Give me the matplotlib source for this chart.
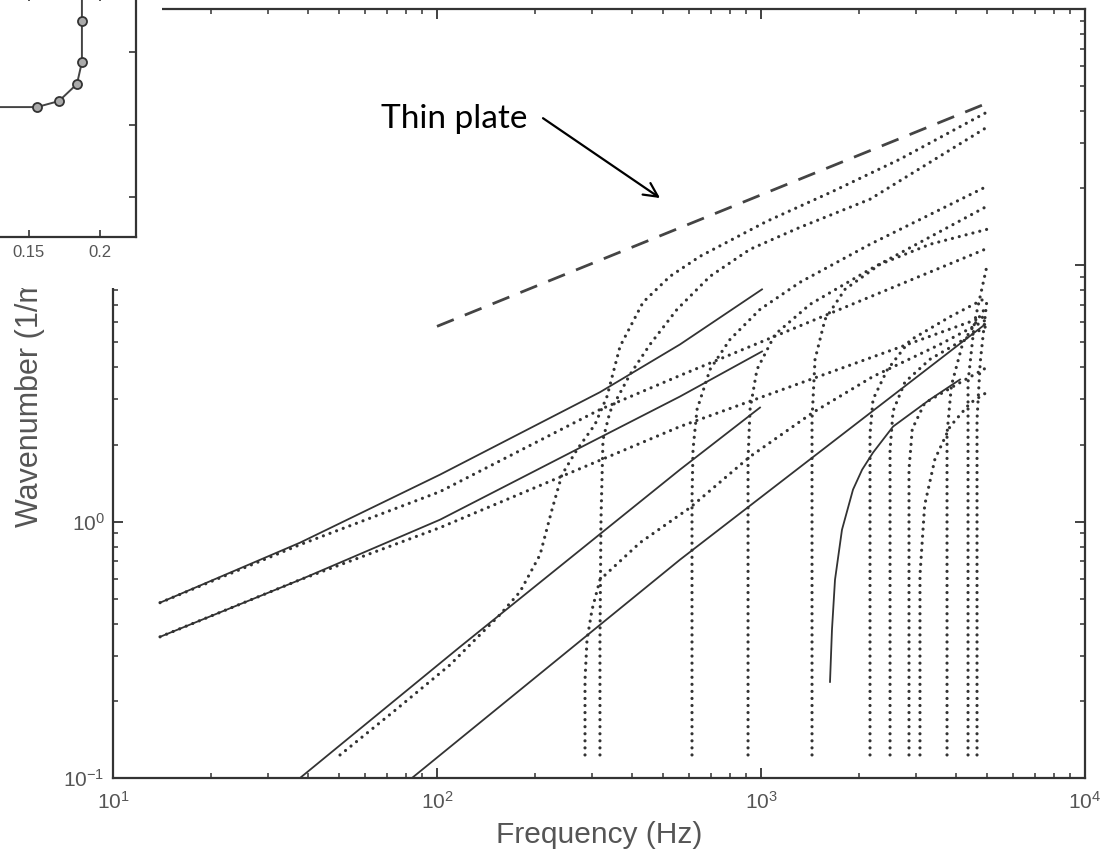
import matplotlib
matplotlib.use('Agg')
import matplotlib.pyplot as plt
from matplotlib.patches import Rectangle
from matplotlib.transforms import Bbox

plt.rcParams['font.family'] = ['Liberation Sans', 'DejaVu Sans']
plt.rcParams['mathtext.fontset'] = 'custom'
plt.rcParams['mathtext.rm'] = 'Liberation Sans'
plt.rcParams['mathtext.it'] = 'Liberation Sans:italic'
plt.rcParams['mathtext.bf'] = 'Liberation Sans:bold'
plt.rcParams['mathtext.default'] = 'regular'

# ---------------- data (frequency Hz, wavenumber 1/m) ----------------
plate_f = [100, 4914]
plate_k = [5.78, 42.6]

s1_f = [13.97, 37.77, 102.2, 318.4, 562.3, 1007]
s1_k = [0.483, 0.828, 1.526, 3.20, 4.914, 8.058]
s2_f = [13.97, 37.77, 102.2, 318.4, 562.3, 1007]
s2_k = [0.3554, 0.5934, 1.018, 2.13, 3.078, 4.613]
s3_f = [37.77, 117.8, 562.3, 992.9]
s3_k = [0.1, 0.3249, 1.596, 2.787]
s4_f = [83.7, 562.3, 4914]
s4_k = [0.1, 0.7107, 5.884]
s5_f = [1633, 1656, 1692, 1778, 1923, 2052, 2217, 2556, 3323, 4114]
s5_k = [0.2371, 0.379, 0.5934, 0.93, 1.334, 1.596, 1.860, 2.350, 2.997, 3.586]

d1_f = [13.97, 37.77, 102.2, 318.4, 562.3, 4914]
d1_k = [0.483, 0.8131, 1.310, 2.738, 3.717, 11.55]
d2_f = [13.97, 37.77, 102.2, 562.3, 4914]
d2_k = [0.3554, 0.5934, 0.948, 2.350, 6.32]

m1_f = [50.2, 73.2, 109.7, 156.4, 180.4, 208.0, 226.4, 243.1, 270.5, 307.3,
        334.7, 367.2, 432.3, 523.7, 648.2, 1043, 1668, 2685, 4985]
m1_k = [0.1230, 0.181, 0.2763, 0.4334, 0.5328, 0.7430, 1.114, 1.526, 1.911, 2.393,
        3.078, 4.826, 7.171, 9.059, 10.84, 14.86, 19.45, 25.95, 39.61]
m2_f = [318.4, 318.4, 320.7, 325.3, 342.0, 394.2, 454.4, 550.5, 696.1, 924.9, 1319, 2170, 4985]
m2_k = [0.1230, 0.3459, 1.018, 2.090, 2.690, 3.751, 4.914, 6.731, 9.059, 11.55, 14.07, 18.11, 34.6]
m0_f = [286.3, 286.3, 290.4, 300.9, 318.4, 423.2, 603.9, 924.9, 1447, 2217, 3568, 4985]
m0_k = [0.1230, 0.2415, 0.3459, 0.4531, 0.5934, 0.8279, 1.134, 1.794, 2.667, 3.684, 4.914, 6.152]
m3_f = [612.4, 612.4, 616.8, 634.6, 696.1, 802.3, 992.9, 1319, 2170, 4985]
m3_k = [0.1230, 1.219, 1.911, 2.738, 3.925, 5.139, 6.731, 8.585, 12.08, 20.35]
m4_f = [912.0, 912.0, 924.9, 971.9, 1105, 1417, 2170, 4985]
m4_k = [0.1230, 1.747, 2.738, 3.925, 5.377, 7.043, 9.647, 17.01]
m5_f = [1437, 1437, 1468, 1576, 1816, 2330, 3323, 4985]
m5_k = [0.1230, 2.503, 4.295, 6.152, 8.058, 10.09, 12.08, 13.82]
m6_f = [2170, 2170, 2217, 2450, 2884, 3832, 4985]
m6_k = [0.1230, 2.2, 3.0, 3.9, 5.1, 6.3, 7.5]
m7_f = [2502, 2502, 2556, 2780, 3323, 4985]
m7_k = [0.1230, 1.9, 2.7, 3.5, 4.3, 5.8]
m8_f = [2863, 2863, 2930, 3200, 3971, 4985]
m8_k = [0.1230, 1.6, 2.3, 2.9, 3.4, 4.0]
m9_f = [3095, 3095, 3200, 3440, 3832, 4420, 4985]
m9_k = [0.1230, 0.62, 1.16, 1.75, 2.35, 2.9, 3.2]
m10_f = [3751, 3751, 3870, 4200, 4985]
m10_k = [0.1230, 2.2, 3.4, 5.0, 7.0]
m11_f = [4355, 4355, 4560, 4985]
m11_k = [0.1230, 3.5, 6.0, 10.0]
m12_f = [4642, 4642, 4750, 4985]
m12_k = [0.1230, 2.5, 4.2, 7.4]

# inset data
inset_x = [0.09, 0.1556, 0.1711, 0.1838, 0.1873, 0.1873, 0.1873]
inset_y = [2.241, 2.241, 2.324, 2.559, 2.862, 3.428, 4.2]
inset_xticks = [0.15, 0.2]
inset_xticklabels = ['0.15', '0.2']

# annotation
label_text = 'Thin plate'
label_pos = (190, 37.2)
arrow_tail = (212.4, 37.5)
arrow_tip = (488, 18.3)

# ---------------- figure ----------------
W, H = 1108, 856
fig = plt.figure(figsize=(W / 100, H / 100), dpi=100)
ax = fig.add_axes([113 / W, 1 - 778 / H, 972 / W, 769 / H])
ax.set_xscale('log')
ax.set_yscale('log')
ax.set_xlim(10, 1e4)
ax.set_ylim(0.1, 100)

line_col = '#333333'
dot_style = dict(color=line_col, lw=2.3, linestyle=(0, (0.01, 2.2)),
                 dash_capstyle='round')
solid_style = dict(color=line_col, lw=1.3)

ax.plot(plate_f, plate_k, color='#444444', lw=2.0, linestyle=(0, (6.5, 4.3)))

for f, k in [(d1_f, d1_k), (d2_f, d2_k), (m0_f, m0_k), (m1_f, m1_k), (m2_f, m2_k),
             (m3_f, m3_k), (m4_f, m4_k), (m5_f, m5_k), (m6_f, m6_k), (m7_f, m7_k),
             (m8_f, m8_k), (m9_f, m9_k), (m10_f, m10_k), (m11_f, m11_k), (m12_f, m12_k)]:
    ax.plot(f, k, **dot_style)

for f, k in [(s1_f, s1_k), (s2_f, s2_k), (s3_f, s3_k), (s4_f, s4_k), (s5_f, s5_k)]:
    ax.plot(f, k, **solid_style)

for sp in ax.spines.values():
    sp.set_linewidth(1.6)
    sp.set_color('#333333')
ax.tick_params(which='both', direction='in', top=True, right=True,
               color='#333333', labelcolor='#555555', labelsize=15)
ax.tick_params(which='major', length=7, width=1.3)
ax.tick_params(which='minor', length=3.5, width=1.1)
ax.tick_params(axis='x', pad=9)
ax.tick_params(axis='y', pad=6)

ax.set_xlabel('Frequency (Hz)', fontsize=21.5, color='#555555', va='center')
ax.xaxis.set_label_coords(0.5, (778 - 835) / 769)
ylab = ax.set_ylabel('Wavenumber (1/m)', fontsize=22, color='#555555', va='center')
ax.yaxis.set_label_coords((30 - 113) / 972, (778 - 397) / 769)
ylab.set_clip_box(Bbox([[0, 0], [W, H - 288]]))
ylab.set_clip_on(True)

ax.annotate('', xy=arrow_tip, xytext=arrow_tail,
            arrowprops=dict(arrowstyle='->,head_length=1.0,head_width=0.5',
                            lw=1.6, color='black', shrinkA=0, shrinkB=0))
ax.text(label_pos[0], label_pos[1], label_text, ha='right', va='center',
        fontsize=24, color='black', family=['Lato', 'DejaVu Sans'])

# white box covering the top-left corner (inset picture)
box = Rectangle((0, 1 - 288 / H), 162 / W, 288 / H, transform=fig.transFigure,
                facecolor='white', edgecolor='none', zorder=2)
fig.add_artist(box)

axin = fig.add_axes([-42 / W, 1 - 237 / H, 178 / W, 243 / H])
axin.set_zorder(3)
axin.set_xlim(0.10, 0.2254)
axin.set_ylim(0.45, 3.8)
axin.plot(inset_x, inset_y, color='#444444', lw=1.4, marker='o', ms=6.5,
          mfc='#aaaaaa', mec='#333333', mew=1.3, markevery=[1, 2, 3, 4, 5])
axin.set_xticks(inset_xticks)
axin.set_xticklabels(inset_xticklabels)
axin.set_yticks([1, 2, 3])
for sp in axin.spines.values():
    sp.set_linewidth(1.6)
    sp.set_color('#333333')
axin.tick_params(which='both', direction='in', top=True, right=True,
                 labelleft=False, color='#333333', labelcolor='#555555',
                 labelsize=12, length=5, width=1.2, pad=6)

fig.savefig('out.png', dpi=100, facecolor='white')
